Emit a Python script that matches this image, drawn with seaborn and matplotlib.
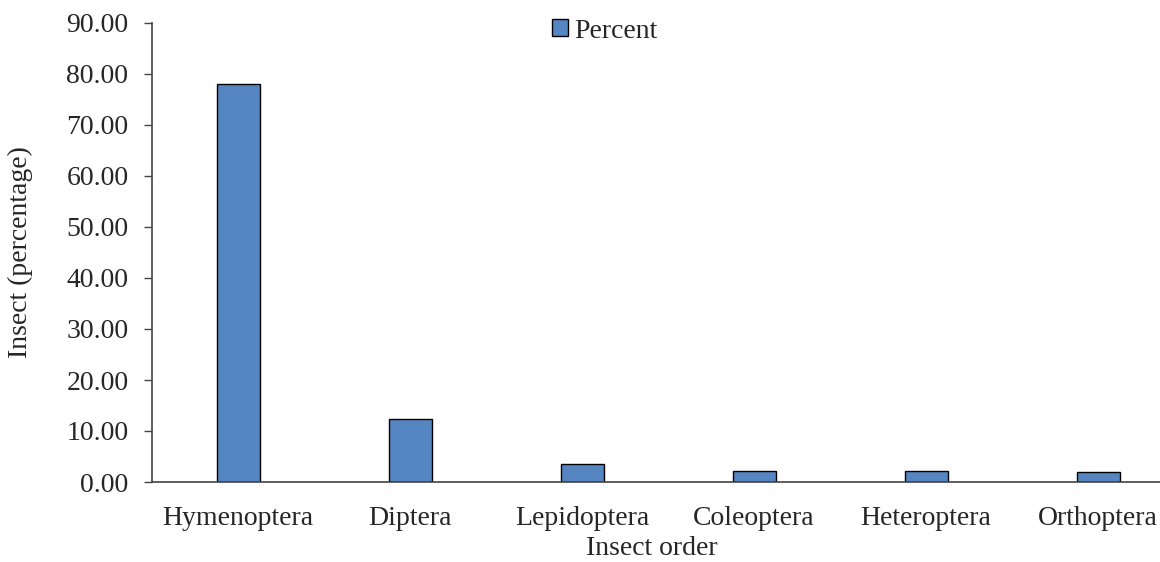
import matplotlib.pyplot as plt
import seaborn as sns
import pandas as pd

orders = ["Hymenoptera", "Diptera", "Lepidoptera", "Coleoptera", "Heteroptera", "Orthoptera"]
percent = [78.0, 12.3, 3.5, 2.1, 2.1, 1.9]

df = pd.DataFrame({"order": orders, "percent": percent})

sns.set_style("white")
plt.rcParams["font.family"] = ["Liberation Serif", "DejaVu Serif"]
fs = 20

fig = plt.figure(figsize=(11.6, 5.62), dpi=100)
# axes run past the right edge, as in the cropped original
ax = fig.add_axes([152 / 1160, 80 / 562, 1032 / 1160, 459 / 562])

sns.barplot(data=df, x="order", y="percent", ax=ax, color="#5586C2",
            width=0.25, edgecolor="black", linewidth=1, label="Percent",
            saturation=1)

ax.set_ylim(0, 90)
ax.set_xlim(-0.5, len(orders) - 0.5)
ax.set_yticks(range(0, 91, 10))
ax.set_yticklabels([f"{v:.2f}" for v in range(0, 91, 10)])
ax.tick_params(axis="y", direction="out", length=6, width=1, color="#444444",
               labelsize=fs, pad=11, left=True)
ax.tick_params(axis="x", length=0, labelsize=fs, pad=17)

for s in ["top", "right"]:
    ax.spines[s].set_visible(False)
for s in ["left", "bottom"]:
    ax.spines[s].set_color("#444444")
    ax.spines[s].set_linewidth(1.2)

ax.set_ylabel("")
ax.set_xlabel("")
fig.text(20 / 1160, 1 - 252 / 562, "Insect (percentage)", ha="center", va="center",
         rotation=90, fontsize=fs)
fig.text(652 / 1160, 1 / 562, "Insect order", ha="center", va="bottom", fontsize=fs)

ax.legend(loc="center", bbox_to_anchor=(605 / 1160, 1 - 31 / 562),
          bbox_transform=fig.transFigure, frameon=False, fontsize=fs,
          handlelength=0.55, handleheight=0.55, handletextpad=0.25)

fig.savefig("out.png", dpi=100)
